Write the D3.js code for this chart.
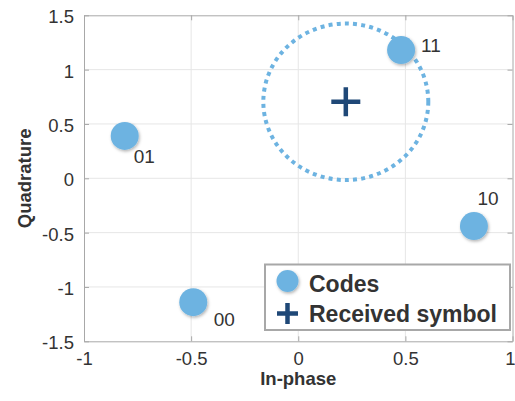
<!DOCTYPE html>
<html><head><meta charset="utf-8">
<script src="https://cdn.jsdelivr.net/npm/d3@7"></script>
<style>body{margin:0;background:#fff}svg{display:block}text{font-family:"Liberation Sans",Arial,sans-serif}</style>
</head><body>
<svg id="c" width="515" height="401"></svg>
<script>
const codeLabels = ["01","11","00","10"];
const codeI = [-0.81, 0.48, -0.49, 0.82];
const codeQ = [0.39, 1.18, -1.14, -0.44];
const receivedI = [0.222];
const receivedQ = [0.704];
const circleRadiusI = 0.385;
const circleRadiusQ = 0.72;
const xTicks = [-1,-0.5,0,0.5,1];
const yTicks = [-1.5,-1,-0.5,0,0.5,1,1.5];
const legendLabels = ["Codes","Received symbol"];

const W=515,H=401, m={l:84,r:2.5,t:15.3,b:59.7};
const svg=d3.select("#c");
const x=d3.scaleLinear().domain([-1,1]).range([m.l,W-m.r]);
const y=d3.scaleLinear().domain([-1.5,1.5]).range([H-m.b,m.t]);
const fill="#6db3e1", navy="#1f4877", txt="#333", axc="#a8a8a8";

const defs=svg.append("defs");
const f=defs.append("filter").attr("id","sh").attr("x","-50%").attr("y","-50%").attr("width","200%").attr("height","200%");
f.append("feDropShadow").attr("dx",1).attr("dy",1.5).attr("stdDeviation",1.5).attr("flood-color","#000").attr("flood-opacity",0.3);

// grid
svg.append("g").selectAll("line").data(xTicks.slice(1,-1)).join("line")
 .attr("x1",d=>x(d)).attr("x2",d=>x(d)).attr("y1",m.t).attr("y2",H-m.b).attr("stroke","#e6e6e6");
svg.append("g").selectAll("line").data(yTicks.slice(1,-1)).join("line")
 .attr("y1",d=>y(d)).attr("y2",d=>y(d)).attr("x1",m.l).attr("x2",W-m.r).attr("stroke","#e6e6e6");

// axes
const fmt=d=>String(d);
const axB=svg.append("g").attr("transform",`translate(0,${H-m.b})`).call(d3.axisBottom(x).tickValues(xTicks).tickFormat(fmt).tickSizeInner(-5).tickSizeOuter(0).tickPadding(11));
const axL=svg.append("g").attr("transform",`translate(${m.l},0)`).call(d3.axisLeft(y).tickValues(yTicks).tickFormat(fmt).tickSizeInner(-5).tickSizeOuter(0).tickPadding(10));
const axT=svg.append("g").attr("transform",`translate(0,${m.t})`).call(d3.axisTop(x).tickValues(xTicks).tickFormat("").tickSizeInner(-5).tickSizeOuter(0));
const axR=svg.append("g").attr("transform",`translate(${W-m.r},0)`).call(d3.axisRight(y).tickValues(yTicks).tickFormat("").tickSizeInner(-5).tickSizeOuter(0));
[axB,axL,axT,axR].forEach(a=>{a.select(".domain").attr("stroke",axc);a.selectAll(".tick line").attr("stroke",axc);
 a.selectAll("text").attr("fill",txt).style("font-size","18.5px").style("font-family","Liberation Sans, Arial, sans-serif");});
axB.selectAll(".tick text").filter(d=>d===1).attr("text-anchor","end").attr("x",W-m.r-x(1)+2.5);
axL.selectAll(".tick text").attr("dy","0.4em");

// titles
svg.append("text").attr("x",x(0)).attr("y",H-16).attr("text-anchor","middle").attr("font-weight","bold").attr("font-size",18.5).attr("fill",txt).text("In-phase");
svg.append("text").attr("transform",`translate(31,${y(0)}) rotate(-90)`).attr("text-anchor","middle").attr("font-weight","bold").attr("font-size",18.5).attr("fill",txt).text("Quadrature");

// dotted circle
svg.append("ellipse").datum(0).attr("cx",d=>x(receivedI[d])).attr("cy",d=>y(receivedQ[d]))
 .attr("rx",x(circleRadiusI)-x(0)).attr("ry",y(0)-y(circleRadiusQ))
 .attr("fill","none").attr("stroke",fill).attr("stroke-width",4).attr("stroke-dasharray","4 4.2");

// codes
const labelOffset={"01":[9,27.5],"11":[20,1.7],"00":[20.5,24],"10":[3.5,-21]};
const codes=codeLabels.map((l,i)=>({l,i:codeI[i],q:codeQ[i]}));
svg.append("g").selectAll("circle").data(codes).join("circle")
 .attr("cx",d=>x(d.i)).attr("cy",d=>y(d.q)).attr("r",14).attr("fill",fill).attr("filter","url(#sh)");
svg.append("g").selectAll("text").data(codes).join("text")
 .attr("x",d=>x(d.i)+labelOffset[d.l][0]).attr("y",d=>y(d.q)+labelOffset[d.l][1]).attr("font-size",19).attr("fill",txt).text(d=>d.l);

// received
const plus=(g,cx,cy,s,w)=>{g.append("path").attr("d",`M${cx-s},${cy}H${cx+s}M${cx},${cy-s}V${cy+s}`).attr("stroke",navy).attr("stroke-width",w).attr("fill","none");};
receivedI.forEach((v,i)=>plus(svg,x(v),y(receivedQ[i]),14.5,4.5));

// legend
const lg=svg.append("g");
lg.append("rect").attr("x",265).attr("y",264.5).attr("width",245).attr("height",65.5).attr("fill","#fff").attr("stroke","#a8a8a8").attr("stroke-width",2);
lg.append("circle").attr("cx",287.5).attr("cy",281).attr("r",11).attr("fill",fill).attr("filter","url(#sh)");
plus(lg,287.5,313.5,10.5,4.5);
lg.selectAll("text").data(legendLabels).join("text").attr("x",309).attr("y",(d,i)=>291.5+i*30.5)
 .attr("font-weight","bold").attr("font-size",23).attr("fill",txt).text(d=>d);
</script>
</body></html>
